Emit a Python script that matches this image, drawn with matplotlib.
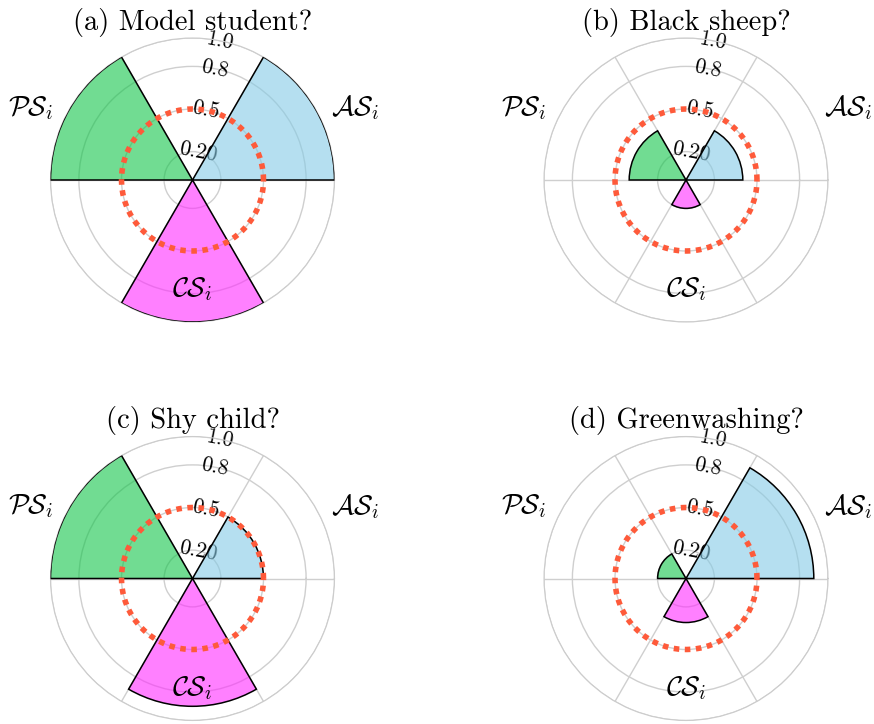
import numpy as np
import matplotlib
matplotlib.use("Agg")
import matplotlib.pyplot as plt

plt.rcParams['font.family'] = 'serif'
plt.rcParams['font.serif'] = ['cmr10']
plt.rcParams['mathtext.fontset'] = 'cm'
plt.rcParams['axes.unicode_minus'] = False

# panel data
titles = ["(a) Model student?", "(b) Black sheep?", "(c) Shy child?", "(d) Greenwashing?"]
as_vals = [1.0, 0.40, 0.50, 0.90]
ps_vals = [1.0, 0.40, 1.0, 0.20]
cs_vals = [1.0, 0.20, 0.90, 0.31]
threshold = 0.5

category_angles = [30, 150, 270]
category_labels = [r"$\mathcal{AS}_i$", r"$\mathcal{PS}_i$", r"$\mathcal{CS}_i$"]
colors = ["#85cbe6", "#12c549", "#ff2bff"]
rticks = [0.2, 0.5, 0.8, 1.0]
rtick_labels = ["0.20", "0.5", "0.8", "1.0"]

fig = plt.figure(figsize=(8.74, 7.24), dpi=100)
W, H = 874, 724
centers = [(192.5, 180), (686, 180), (192.5, 578.5), (686, 578.5)]
R = 142

# where the category names sit (theta deg, r)
label_pos = [(24, 1.25), (156, 1.25), (270, 0.77)]

for i, (cx, cy) in enumerate(centers):
    rect = [(cx - R) / W, 1 - (cy + R) / H, 2 * R / W, 2 * R / H]
    ax = fig.add_axes(rect, projection='polar')
    ax.set_axisbelow(True)
    vals = [as_vals[i], ps_vals[i], cs_vals[i]]
    ax.bar(np.deg2rad(category_angles), vals, width=np.deg2rad(60),
           color=colors, alpha=0.6, edgecolor='none', zorder=2)
    ax.bar(np.deg2rad(category_angles), vals, width=np.deg2rad(60),
           facecolor='none', edgecolor='black', linewidth=1.1, zorder=3)
    th = np.linspace(0, 2 * np.pi, 400)
    ax.plot(th, np.full_like(th, threshold), color='#fe5a3a', linewidth=4,
            linestyle=(0, (1, 1.0)), zorder=4)
    ax.set_ylim(0, 1.0)
    ax.set_xticks(np.deg2rad([0, 60, 120, 180, 240, 300]))
    ax.set_xticklabels([])
    ax.set_rgrids(rticks, labels=rtick_labels, angle=79)
    ax.tick_params(axis='y', labelrotation=-11, labelsize=15.5)
    for lab in ax.get_yticklabels():
        lab.set_horizontalalignment('center')
        lab.set_verticalalignment('center')
        lab.set_zorder(6)
    ax.grid(True, color='#cfcfcf', linewidth=1.0)
    ax.spines['polar'].set_color('#cccccc')
    for (ang, rr), lab in zip(label_pos, category_labels):
        ax.text(np.deg2rad(ang), rr, lab, fontsize=20, ha='center', va='center',
                clip_on=False, zorder=5)
    ax.set_title(titles[i], fontsize=20.5, pad=6)

fig.savefig("out.png", dpi=100)
